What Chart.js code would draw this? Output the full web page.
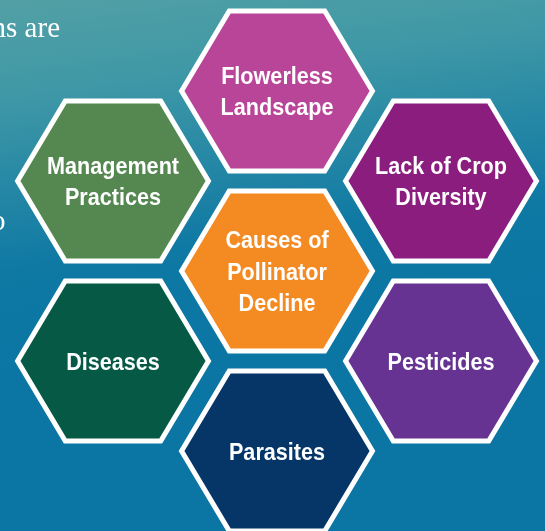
<!DOCTYPE html>
<html>
<head>
<meta charset="utf-8">
<script src="https://cdn.jsdelivr.net/npm/chart.js@4"></script>
<style>
  html, body { margin: 0; padding: 0; background: #0b76a4; }
  #wrap { width: 545px; height: 531px; position: relative; }
</style>
</head>
<body>
<div id="wrap"><canvas id="hexChart"></canvas></div>
<script>
// hexagon labels (one entry per line of text)
const hexLabels = [
    ['Flowerless', 'Landscape'],
    ['Lack of Crop', 'Diversity'],
    ['Pesticides'],
    ['Parasites'],
    ['Diseases'],
    ['Management', 'Practices'],
    ['Causes of', 'Pollinator', 'Decline']
];
// position in the honeycomb: column and half-row
const hexCol = [0, 1, 1, 0, -1, -1, 0];
const hexRow = [2, 1, -1, -2, -1, 1, 0];
const hexColors = ['#b94598', '#8a1d7d', '#663393', '#053667', '#065a45', '#558850', '#f48a22'];

// Helvetica-condensed look: Liberation Sans bold squeezed horizontally
const hexFont = 'bold 24px "Liberation Sans", Arial, sans-serif';
const squeeze = 0.9;

document.addEventListener("DOMContentLoaded", function () {

    // Background gradient and the clipped body text behind the diagram
    const backgroundPlugin = {
        id: 'background',
        beforeDraw(chart) {
            const ctx = chart.ctx;
            const grad = ctx.createLinearGradient(0, 0, 50, 380);
            grad.addColorStop(0, '#52a0a5');
            grad.addColorStop(0.25, '#3f98a6');
            grad.addColorStop(0.7, '#0f79a4');
            grad.addColorStop(1, '#0b75a4');
            ctx.save();
            ctx.fillStyle = grad;
            ctx.fillRect(0, 0, chart.width, chart.height);
            ctx.fillStyle = '#ffffff';
            ctx.font = '29px "Liberation Serif", "DejaVu Serif", serif';
            ctx.textAlign = 'right';
            ctx.textBaseline = 'alphabetic';
            ctx.fillText('ns are', 60, 37);
            ctx.textAlign = 'left';
            ctx.fillText('o', -9, 230);
            ctx.restore();
        }
    };

    // Draw a hexagon with its label around each point
    const hexPlugin = {
        id: 'hexagons',
        afterDatasetsDraw(chart) {
            const ctx = chart.ctx;
            const xs = chart.scales.x;
            const ys = chart.scales.y;
            const w = (xs.getPixelForValue(1) - xs.getPixelForValue(0)) * 0.582;
            const h = (ys.getPixelForValue(0) - ys.getPixelForValue(1)) * 0.89;
            const meta = chart.getDatasetMeta(0);
            meta.data.forEach((pt, i) => {
                const cx = pt.x, cy = pt.y;
                ctx.save();
                ctx.beginPath();
                ctx.moveTo(cx - w, cy);
                ctx.lineTo(cx - w / 2, cy - h);
                ctx.lineTo(cx + w / 2, cy - h);
                ctx.lineTo(cx + w, cy);
                ctx.lineTo(cx + w / 2, cy + h);
                ctx.lineTo(cx - w / 2, cy + h);
                ctx.closePath();
                ctx.fillStyle = hexColors[i];
                ctx.fill();
                ctx.lineWidth = 5;
                ctx.lineJoin = 'miter';
                ctx.strokeStyle = '#ffffff';
                ctx.stroke();

                const lines = hexLabels[i];
                const lineH = 31.5;
                ctx.fillStyle = '#ffffff';
                ctx.font = hexFont;
                ctx.textAlign = 'center';
                ctx.textBaseline = 'alphabetic';
                ctx.translate(cx, 0);
                ctx.scale(squeeze, 1);
                lines.forEach((line, j) => {
                    const ly = cy + (j - (lines.length - 1) / 2) * lineH + 8.5;
                    ctx.fillText(line, 0, ly);
                });
                ctx.restore();
            });
        }
    };

    const points = hexCol.map((c, i) => ({ x: c, y: hexRow[i] }));

    var ctxHex = document.getElementById('hexChart').getContext('2d');
    var hexChart = new Chart(ctxHex, {
        type: 'scatter',
        data: {
            labels: hexLabels.map(l => l.join(' ')),
            datasets: [{
                label: 'Causes',
                data: points,
                pointRadius: 0,
                pointHoverRadius: 0
            }]
        },
        options: {
            responsive: true,
            maintainAspectRatio: false,
            animation: false,
            layout: { padding: 0 },
            plugins: {
                legend: { display: false },
                tooltip: { enabled: false }
            },
            scales: {
                x: { type: 'linear', display: false, min: -277 / 164, max: (545 - 277) / 164 },
                y: { type: 'linear', display: false, min: (271 - 531) / 90, max: 271 / 90 }
            }
        },
        plugins: [backgroundPlugin, hexPlugin]
    });
});
</script>
</body>
</html>
